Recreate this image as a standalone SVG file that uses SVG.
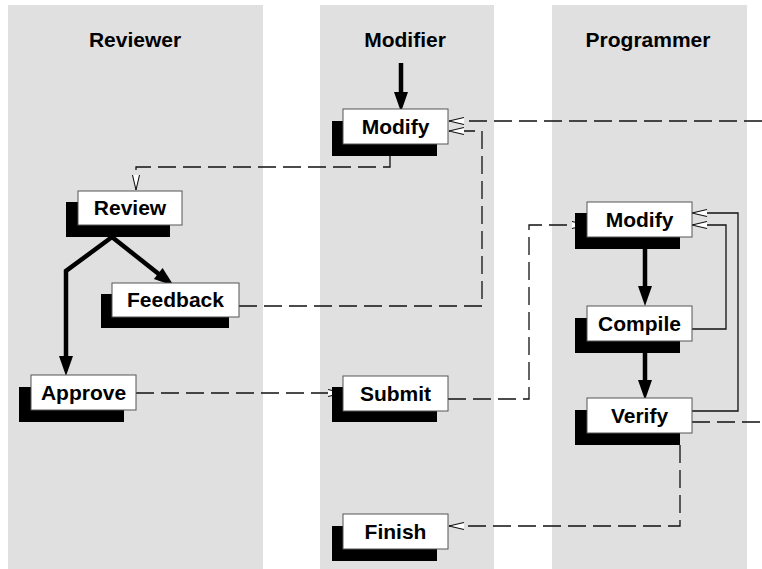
<svg xmlns="http://www.w3.org/2000/svg" width="762" height="569" viewBox="0 0 762 569">
  <style>
    .lane { fill: #e0e0e0; }
    .head { font-family: "Liberation Sans", Arial, sans-serif; font-weight: bold; font-size: 21px; text-anchor: middle; fill: #000; }
    .shadow { fill: #000; }
    .box { fill: #fff; stroke: #555; stroke-width: 1; }
    .label { font-family: "Liberation Sans", Arial, sans-serif; font-weight: bold; font-size: 21px; text-anchor: middle; fill: #000; }
    .flow { fill: none; stroke: #000; stroke-width: 4.5; }
    .flowhead { fill: #000; }
    .dash { fill: none; stroke: #111; stroke-width: 1.3; stroke-dasharray: 18 7; }
    .thin { fill: none; stroke: #111; stroke-width: 1.3; }
  </style>
  <defs>
    <marker id="open" viewBox="-16 -5 17 10" refX="0" refY="0" markerWidth="17" markerHeight="10" markerUnits="userSpaceOnUse" orient="auto">
      <path d="M-15,-3.5 L0,0 L-15,3.5" fill="#fff" stroke="#111" stroke-width="1.1"/>
    </marker>
  </defs>

  <!-- swimlanes -->
  <g id="lanes">
    <rect class="lane" x="8" y="5" width="255" height="564"/>
    <rect class="lane" x="320" y="5" width="174" height="564"/>
    <rect class="lane" x="552" y="5" width="195" height="564"/>
    <text class="head" x="135" y="47">Reviewer</text>
    <text class="head" x="405" y="47">Modifier</text>
    <text class="head" x="648" y="47">Programmer</text>
  </g>

  <!-- connectors -->
  <g id="connectors">
    <!-- control flow -->
    <path class="flow" d="M401,63 V94"/>
    <polygon class="flowhead" points="394,92 408,92 401,112"/>
    <path class="flow" d="M112,237 L160,275"/>
    <polygon class="flowhead" points="153.9,279.1 162.6,268.1 174,286"/>
    <path class="flow" d="M112,237 L66,271 V358"/>
    <polygon class="flowhead" points="59,356 73,356 66,376"/>
    <path class="flow" d="M645,249 V288"/>
    <polygon class="flowhead" points="638,286 652,286 645,306"/>
    <path class="flow" d="M645,353 V382"/>
    <polygon class="flowhead" points="638,380 652,380 645,400"/>

    <!-- object flow -->
    <path class="dash" d="M762,121 H449" marker-end="url(#open)"/>
    <path class="dash" d="M239,306 H482 V131 H449" marker-end="url(#open)"/>
    <path class="dash" d="M390,156 V167 H136 V190" marker-end="url(#open)"/>
    <path class="dash" d="M136,393 H343" marker-end="url(#open)"/>
    <path class="dash" d="M448,399 H529 V225 H587" marker-end="url(#open)"/>
    <path class="dash" d="M680,445 V526 H449" marker-end="url(#open)"/>
    <path class="dash" d="M692,422 H762"/>
    <path class="thin" d="M692,329 H726 V225 H692" marker-end="url(#open)"/>
    <path class="thin" d="M692,411 H738 V213 H692" marker-end="url(#open)"/>
  </g>

  <!-- activities -->
  <g id="modify-modifier">
    <rect class="shadow" x="332" y="121" width="105" height="35"/>
    <rect class="box" x="343" y="109" width="105" height="35"/>
    <text class="label" x="395.5" y="134">Modify</text>
  </g>
  <g id="review">
    <rect class="shadow" x="66" y="202" width="104" height="35"/>
    <rect class="box" x="78" y="191" width="104" height="34"/>
    <text class="label" x="130" y="215">Review</text>
  </g>
  <g id="feedback">
    <rect class="shadow" x="101" y="294" width="128" height="34"/>
    <rect class="box" x="112" y="283" width="127" height="34"/>
    <text class="label" x="175.5" y="307">Feedback</text>
  </g>
  <g id="approve">
    <rect class="shadow" x="19" y="387" width="105" height="35"/>
    <rect class="box" x="31" y="375" width="105" height="35"/>
    <text class="label" x="83.5" y="400">Approve</text>
  </g>
  <g id="submit">
    <rect class="shadow" x="332" y="387" width="105" height="35"/>
    <rect class="box" x="343" y="376" width="105" height="35"/>
    <text class="label" x="395.5" y="401">Submit</text>
  </g>
  <g id="finish">
    <rect class="shadow" x="332" y="526" width="105" height="35"/>
    <rect class="box" x="343" y="514" width="105" height="35"/>
    <text class="label" x="395.5" y="539">Finish</text>
  </g>
  <g id="modify-programmer">
    <rect class="shadow" x="575" y="213" width="105" height="36"/>
    <rect class="box" x="587" y="202" width="105" height="35"/>
    <text class="label" x="639.5" y="227">Modify</text>
  </g>
  <g id="compile">
    <rect class="shadow" x="575" y="318" width="105" height="35"/>
    <rect class="box" x="587" y="306" width="105" height="35"/>
    <text class="label" x="639.5" y="331">Compile</text>
  </g>
  <g id="verify">
    <rect class="shadow" x="575" y="410" width="105" height="35"/>
    <rect class="box" x="587" y="398" width="105" height="35"/>
    <text class="label" x="639.5" y="423">Verify</text>
  </g>
</svg>
